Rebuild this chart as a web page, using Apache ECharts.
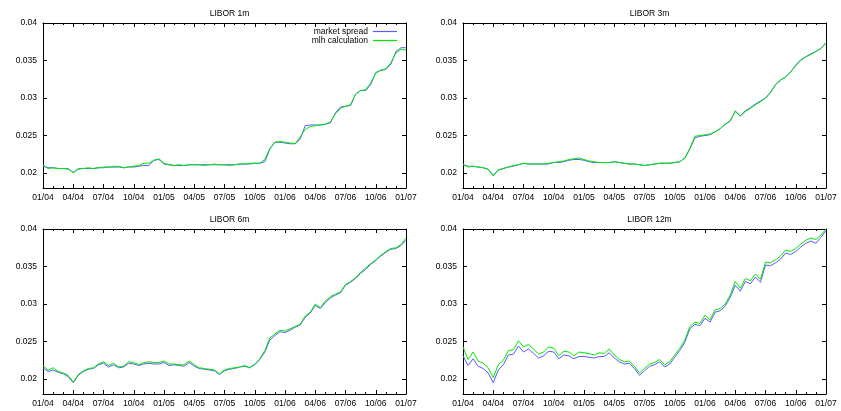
<!DOCTYPE html>
<html>
<head>
<meta charset="utf-8">
<script src="https://cdn.jsdelivr.net/npm/echarts@6/dist/echarts.min.js"></script>
<style>
html,body{margin:0;padding:0;background:#fff;}
#c{width:841px;height:411px;}
</style>
</head>
<body>
<div id="c"></div>
<script>
// x positions: months since 01/2004
const months = [0,0.5,1,1.5,2,2.5,3,3.5,4,4.5,5,5.5,6,6.5,7,7.5,8,8.5,9,9.5,10,10.5,11,11.5,12,12.5,13,13.5,14,14.5,15,15.5,16,16.5,17,17.5,18,18.5,19,19.5,20,20.5,21,21.5,22,22.5,23,23.5,24,24.5,25,25.5,26,26.5,27,27.5,28,28.5,29,29.5,30,30.5,31,31.5,32,32.5,33,33.5,34,34.5,35,35.5,36];

const panelTitles = ['LIBOR 1m','LIBOR 3m','LIBOR 6m','LIBOR 12m'];
const seriesNames = ['market spread','mlh calculation'];
const yTicks = [0.02,0.025,0.03,0.035,0.04];

const m1Market = [0.0209,0.0207,0.0207,0.0206,0.0206,0.0205,0.0201,0.0205,0.0206,0.0206,0.0206,0.0207,0.0207,0.0208,0.0208,0.0208,0.0207,0.0208,0.0208,0.0209,0.0210,0.0210,0.0217,0.0218,0.0212,0.0211,0.0210,0.0210,0.0210,0.0211,0.0211,0.0211,0.0211,0.0211,0.0211,0.0211,0.0211,0.0211,0.0211,0.0212,0.0212,0.0212,0.0213,0.0213,0.0215,0.0232,0.0241,0.0241,0.0240,0.0239,0.0239,0.0245,0.0263,0.0264,0.0264,0.0264,0.0265,0.0267,0.0280,0.0288,0.0289,0.0290,0.0305,0.0310,0.0310,0.0318,0.0334,0.0337,0.0338,0.0345,0.0362,0.0367,0.0367];
const m1Calc   = [0.0211,0.0206,0.0207,0.0206,0.0206,0.0206,0.0200,0.0206,0.0206,0.0207,0.0206,0.0207,0.0208,0.0208,0.0208,0.0209,0.0207,0.0208,0.0209,0.0210,0.0213,0.0213,0.0217,0.0219,0.0213,0.0211,0.0210,0.0211,0.0210,0.0211,0.0211,0.0211,0.0210,0.0211,0.0212,0.0211,0.0211,0.0210,0.0211,0.0212,0.0212,0.0213,0.0213,0.0213,0.0218,0.0233,0.0241,0.0242,0.0241,0.0240,0.0239,0.0248,0.0258,0.0262,0.0263,0.0264,0.0265,0.0268,0.0279,0.0286,0.0289,0.0291,0.0305,0.0310,0.0311,0.0320,0.0333,0.0337,0.0339,0.0347,0.0360,0.0365,0.0364];

const m3Market = [0.0211,0.0209,0.0209,0.0208,0.0207,0.0205,0.0197,0.0204,0.0206,0.0208,0.0209,0.0211,0.0213,0.0212,0.0212,0.0212,0.0212,0.0212,0.0214,0.0214,0.0215,0.0217,0.0218,0.0218,0.0217,0.0215,0.0214,0.0214,0.0214,0.0214,0.0215,0.0214,0.0213,0.0212,0.0212,0.0211,0.0210,0.0211,0.0212,0.0213,0.0213,0.0213,0.0214,0.0215,0.0220,0.0232,0.0247,0.0249,0.0250,0.0251,0.0255,0.0259,0.0265,0.0270,0.0282,0.0276,0.0283,0.0287,0.0292,0.0296,0.0300,0.0308,0.0318,0.0324,0.0328,0.0335,0.0344,0.0351,0.0355,0.0359,0.0362,0.0366,0.0373];
const m3Calc   = [0.0212,0.0208,0.0209,0.0208,0.0207,0.0205,0.0196,0.0204,0.0206,0.0208,0.0210,0.0211,0.0213,0.0212,0.0212,0.0212,0.0212,0.0213,0.0214,0.0215,0.0216,0.0218,0.0219,0.0220,0.0218,0.0216,0.0215,0.0214,0.0214,0.0214,0.0215,0.0214,0.0213,0.0212,0.0212,0.0211,0.0210,0.0211,0.0212,0.0213,0.0213,0.0213,0.0214,0.0215,0.0220,0.0233,0.0249,0.0250,0.0251,0.0252,0.0255,0.0259,0.0265,0.0269,0.0283,0.0276,0.0282,0.0286,0.0291,0.0295,0.0300,0.0307,0.0318,0.0324,0.0328,0.0335,0.0343,0.0350,0.0355,0.0358,0.0362,0.0366,0.0374];

const m6Market = [0.0215,0.0210,0.0212,0.0209,0.0207,0.0203,0.0195,0.0205,0.0210,0.0213,0.0214,0.0219,0.0221,0.0216,0.0219,0.0215,0.0216,0.0221,0.0220,0.0218,0.0220,0.0221,0.0220,0.0220,0.0222,0.0218,0.0219,0.0218,0.0217,0.0222,0.0217,0.0214,0.0213,0.0212,0.0211,0.0206,0.0211,0.0213,0.0214,0.0216,0.0217,0.0215,0.0219,0.0226,0.0236,0.0252,0.0258,0.0263,0.0262,0.0265,0.0269,0.0272,0.0282,0.0288,0.0298,0.0294,0.0302,0.0308,0.0312,0.0315,0.0325,0.0329,0.0334,0.0341,0.0346,0.0353,0.0358,0.0364,0.0369,0.0373,0.0374,0.0378,0.0385];
const m6Calc   = [0.0218,0.0212,0.0215,0.0210,0.0208,0.0205,0.0196,0.0206,0.0211,0.0214,0.0215,0.0220,0.0223,0.0218,0.0221,0.0216,0.0217,0.0223,0.0222,0.0219,0.0222,0.0223,0.0222,0.0222,0.0224,0.0220,0.0220,0.0219,0.0219,0.0224,0.0219,0.0215,0.0214,0.0213,0.0212,0.0207,0.0212,0.0214,0.0215,0.0216,0.0218,0.0215,0.0220,0.0227,0.0238,0.0255,0.0260,0.0265,0.0264,0.0267,0.0270,0.0273,0.0284,0.0289,0.0300,0.0295,0.0304,0.0310,0.0313,0.0316,0.0326,0.0330,0.0335,0.0342,0.0348,0.0354,0.0359,0.0365,0.0370,0.0374,0.0375,0.0379,0.0388];

const m12Market = [0.0231,0.0218,0.0227,0.0217,0.0214,0.0208,0.0195,0.0212,0.0219,0.0232,0.0233,0.0244,0.0236,0.0240,0.0234,0.0228,0.0231,0.0237,0.0236,0.0227,0.0232,0.0231,0.0227,0.0230,0.0230,0.0229,0.0228,0.0230,0.0230,0.0235,0.0228,0.0223,0.0220,0.0221,0.0214,0.0205,0.0211,0.0217,0.0219,0.0223,0.0216,0.0220,0.0229,0.0238,0.0249,0.0267,0.0273,0.0271,0.0281,0.0276,0.0289,0.0291,0.0297,0.0309,0.0325,0.0317,0.0330,0.0327,0.0336,0.0329,0.0352,0.0351,0.0355,0.0360,0.0368,0.0366,0.0370,0.0376,0.0381,0.0384,0.0381,0.0389,0.0398];
const m12Calc   = [0.0243,0.0226,0.0236,0.0224,0.0221,0.0215,0.0202,0.0219,0.0225,0.0238,0.0239,0.0251,0.0243,0.0246,0.0240,0.0233,0.0236,0.0243,0.0241,0.0231,0.0237,0.0236,0.0231,0.0236,0.0235,0.0234,0.0232,0.0235,0.0234,0.0240,0.0232,0.0226,0.0223,0.0224,0.0217,0.0208,0.0214,0.0220,0.0222,0.0226,0.0219,0.0223,0.0232,0.0241,0.0252,0.0270,0.0276,0.0274,0.0285,0.0279,0.0292,0.0294,0.0300,0.0312,0.0330,0.0321,0.0334,0.0331,0.0340,0.0333,0.0356,0.0355,0.0359,0.0364,0.0372,0.0370,0.0374,0.0380,0.0385,0.0388,0.0386,0.0392,0.0400];

const panels = [[m1Market,m1Calc],[m3Market,m3Calc],[m6Market,m6Calc],[m12Market,m12Calc]];

const FONT = 'Liberation Sans';
const grids = [
  {left:43, top:23, width:363, height:165},
  {left:463, top:23, width:363, height:165},
  {left:43, top:229, width:363, height:165},
  {left:463, top:229, width:363, height:165}
];
const colors = ['#5a5aff','#00e800'];

function monthLabel(v){
  const m = Math.round(v);
  const mm = (m % 12) + 1;
  const yy = 4 + Math.floor(m / 12);
  return (mm < 10 ? '0' + mm : '' + mm) + '/' + (yy < 10 ? '0' + yy : '' + yy);
}

const xAxes = [], yAxes = [], series = [], titles = [];
grids.forEach((g, i) => {
  const common = {
    type:'value', gridIndex:i, min:0, max:36, interval:3,
    axisLine:{show:true, onZero:false, lineStyle:{color:'#000', width:1}},
    axisTick:{show:true, inside:true, length:4, lineStyle:{color:'#000'}},
    minorTick:{show:true, splitNumber:3, length:2, lineStyle:{color:'#000'}},
    splitLine:{show:false}
  };
  xAxes.push(Object.assign({}, common, {
    position:'bottom',
    axisLabel:{show:true, color:'#000', fontFamily:FONT, fontSize:8.5, margin:5, formatter:monthLabel}
  }));
  xAxes.push(Object.assign({}, common, {position:'top', axisLabel:{show:false}}));
  const ycommon = {
    type:'value', gridIndex:i, min:0.018, max:0.04,
    axisLine:{show:true, onZero:false, lineStyle:{color:'#000', width:1}},
    axisTick:{show:true, inside:true, length:4, lineStyle:{color:'#000'}, customValues:yTicks},
    splitLine:{show:false}
  };
  yAxes.push(Object.assign({}, ycommon, {
    position:'left',
    axisLabel:{show:true, color:'#000', fontFamily:FONT, fontSize:8.5, margin:6, customValues:yTicks,
      formatter:v => String(Math.round(v*1000)/1000)}
  }));
  yAxes.push(Object.assign({}, ycommon, {position:'right', axisLabel:{show:false}}));
  panels[i].forEach((vals, k) => {
    series.push({
      name: seriesNames[k], type:'line', xAxisIndex:2*i, yAxisIndex:2*i,
      data: months.map((m, j) => [m, vals[j]]),
      symbol:'none', showSymbol:false, animation:false,
      lineStyle:{color:colors[k], width:1}, itemStyle:{color:colors[k]}, z: 2 + k
    });
  });
  titles.push({
    text: panelTitles[i], left: g.left + g.width/2, top: g.top - 19, textAlign:'center',
    textStyle:{fontFamily:FONT, fontSize:8.5, fontWeight:'normal', color:'#000'}
  });
});

const chart = echarts.init(document.getElementById('c'), null, {renderer:'canvas'});
chart.setOption({
  backgroundColor:'#fff',
  animation:false,
  title: titles,
  grid: grids,
  xAxis: xAxes,
  yAxis: yAxes,
  legend: {
    data: seriesNames, orient:'vertical', right: 444, top: 27, align:'right',
    padding:0, itemGap:0, itemWidth:24, itemHeight:8,
    icon:'path://M0,0H24V1.2H0Z', symbolKeepAspect:true,
    textStyle:{fontFamily:FONT, fontSize:8.5, color:'#000', lineHeight:8}
  },
  series: series
});
</script>
</body>
</html>
